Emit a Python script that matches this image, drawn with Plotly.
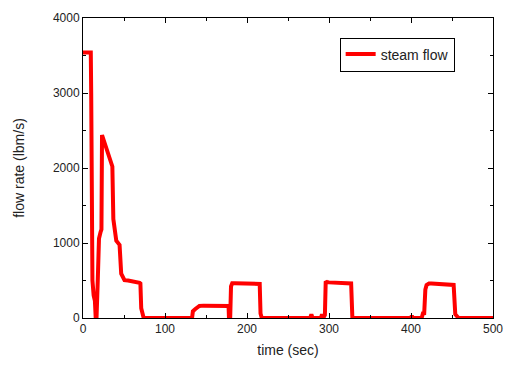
import plotly.graph_objects as go

time_sec = [0, 9.5, 10.0, 10.6, 11.5, 13.0, 14.5, 15.5, 16.5, 18.0, 19.5, 21.5, 22.5, 23.2,
            35.8, 37.0, 38.5, 40.6, 44.6, 46.6, 50.6, 55.0, 69.0, 70.0, 71.0, 74.0,
            133.0, 134.0, 137.0, 142.0, 147.0, 177.5, 178.0, 179.5, 180.5, 182.0, 185.0,
            215.5, 216.5, 218.0, 277.0, 278.5, 280.0, 290.0, 291.5, 293.0, 295.0, 296.0,
            297.0, 300.0, 325.0, 327.0, 328.5, 400.0, 401.0, 402.0, 413.0, 415.0, 416.0,
            417.5, 419.0, 422.0, 425.0, 451.0, 452.0, 454.0, 458.0, 500.0]
steam_flow = [3540, 3540, 3000, 1500, 500, 300, 230, 0, 0, 500, 1060, 1150, 1180, 2440,
              2020, 1320, 1140, 1030, 975, 590, 505, 500, 470, 460, 130, 0,
              0, 90, 120, 160, 165, 160, 0, 0, 420, 465, 465,
              455, 60, 0, 0, 50, 0, 0, 50, 0, 40, 490,
              480, 475, 470, 460, 0, 0, 30, 0, 0, 80, 40,
              380, 440, 460, 460, 450, 440, 50, 0, 0]

FONT = "Liberation Sans, Arial"

fig = go.Figure()
fig.add_trace(go.Scatter(x=time_sec, y=steam_flow, mode="lines", name="steam flow",
                         line=dict(color="#ff0000", width=4)))

axis_common = dict(
    showgrid=False, zeroline=False, showline=True, linecolor="black", linewidth=1,
    mirror="allticks", ticks="inside", ticklen=5, tickcolor="black", tickwidth=1,
    tickfont=dict(family=FONT, size=12, color="#222"),
)
fig.update_xaxes(range=[0, 500], dtick=100, tick0=0,
                 minor=dict(ticks="inside", ticklen=3, dtick=50, tickcolor="black"),
                 title=dict(text="time (sec)", font=dict(family=FONT, size=14, color="#222"), standoff=9),
                 **axis_common)
fig.update_yaxes(range=[0, 4000], dtick=1000, tick0=0,
                 minor=dict(ticks="inside", ticklen=3, dtick=500, tickcolor="black"),
                 title=dict(text="flow rate (lbm/s)", font=dict(family=FONT, size=14, color="#222"), standoff=24),
                 **axis_common)

fig.update_layout(
    width=514, height=370,
    margin=dict(l=83, r=16, t=11, b=52),
    plot_bgcolor="white", paper_bgcolor="white",
    showlegend=True,
    legend=dict(x=0.626, y=0.935, xanchor="left", yanchor="top",
                bordercolor="black", borderwidth=1, bgcolor="white",
                font=dict(family=FONT, size=14, color="#222"),
                itemwidth=30, tracegroupgap=0),
)

fig.write_html("out.html")
